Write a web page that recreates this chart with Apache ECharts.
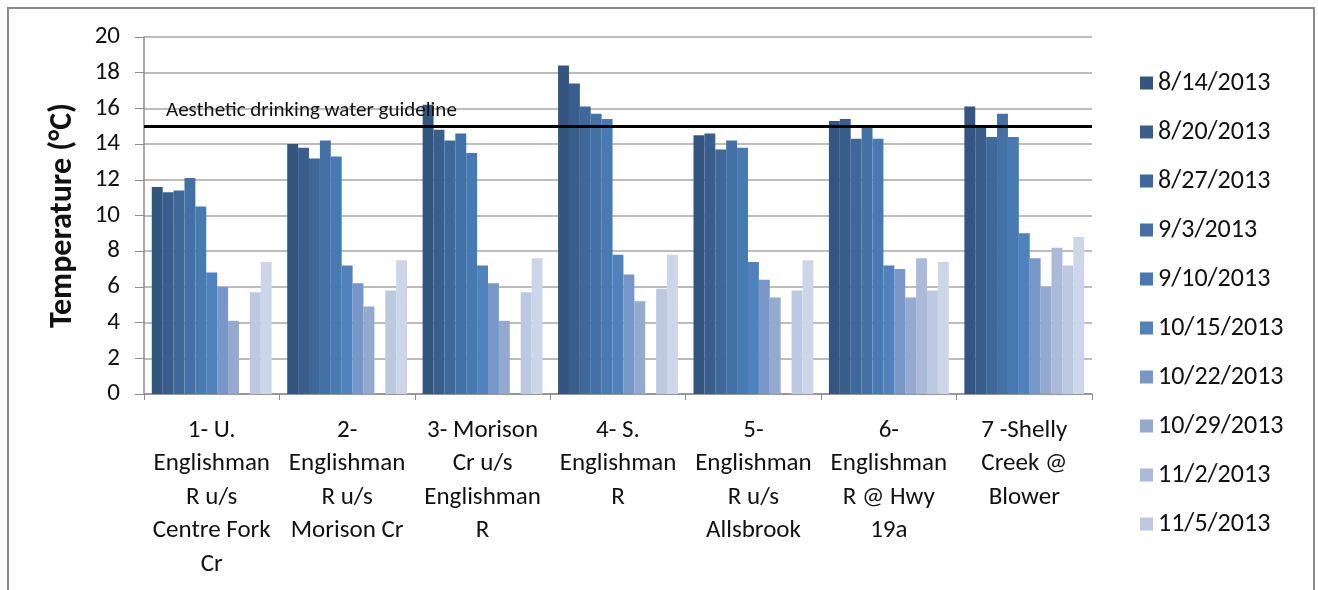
<!DOCTYPE html>
<html>
<head>
<meta charset="utf-8">
<title>Water temperature by site</title>
<script src="https://cdn.jsdelivr.net/npm/echarts@6/dist/echarts.min.js"></script>
<style>
  html, body { margin: 0; padding: 0; background: #fff; }
  #main { width: 1318px; height: 590px; }
</style>
</head>
<body>
<div id="main"></div>
<script>
// sites (x categories)
var sites = [
  '1- U.\nEnglishman\nR u/s\nCentre Fork\nCr',
  '2-\nEnglishman\nR u/s\nMorison Cr',
  '3- Morison\nCr u/s\nEnglishman\nR',
  '4- S.\nEnglishman\nR',
  '5-\nEnglishman\nR u/s\nAllsbrook',
  '6-\nEnglishman\nR @ Hwy\n19a',
  '7 -Shelly\nCreek @\nBlower'
];

// sampling dates (last one is not shown in the legend of the original)
var dates = ['8/14/2013', '8/20/2013', '8/27/2013', '9/3/2013', '9/10/2013',
  '10/15/2013', '10/22/2013', '10/29/2013', '11/2/2013', '11/5/2013', '(unlabelled)'];

// temperature (°C), one array per date, one value per site
var t0814 = [11.6, 14.0, 16.2, 18.4, 14.5, 15.3, 16.1];
var t0820 = [11.3, 13.8, 14.8, 17.4, 14.6, 15.4, 14.9];
var t0827 = [11.4, 13.2, 14.2, 16.1, 13.7, 14.3, 14.4];
var t0903 = [12.1, 14.2, 14.6, 15.7, 14.2, 14.9, 15.7];
var t0910 = [10.5, 13.3, 13.5, 15.4, 13.8, 14.3, 14.4];
var t1015 = [6.8, 7.2, 7.2, 7.8, 7.4, 7.2, 9.0];
var t1022 = [6.0, 6.2, 6.2, 6.7, 6.4, 7.0, 7.6];
var t1029 = [4.1, 4.9, 4.1, 5.2, 5.4, 5.4, 6.0];
var t1102 = [null, null, null, null, null, 7.6, 8.2];
var t1105 = [5.7, 5.8, 5.7, 5.9, 5.8, 5.8, 7.2];
var tLast = [7.4, 7.5, 7.6, 7.8, 7.5, 7.4, 8.8];

var values = [t0814, t0820, t0827, t0903, t0910, t1015, t1022, t1029, t1102, t1105, tLast];
var colors = ['#34557f', '#395e8c', '#3e6899', '#4371a5', '#477ab1', '#4f81bd',
  '#7896c7', '#93a9d0', '#abbad8', '#bdc9e1', '#cdd6e9'];

var guideline = 15;
var yTicks = { min: 0, max: 20, interval: 2 };

var txt = '#111';
var font = 'Carlito, Lato, "Liberation Sans", sans-serif';

var series = [];
for (var i = 0; i < dates.length; i++) {
  var s = {
    name: dates[i],
    type: 'bar',
    data: values[i],
    barGap: '0%',
    barCategoryGap: '11.5%',
    itemStyle: { color: colors[i] }
  };
  if (i === 0) {
    s.markLine = {
      silent: true,
      symbol: 'none',
      data: [{ yAxis: guideline }],
      lineStyle: { color: '#000', width: 3, type: 'solid' },
      label: {
        show: true,
        position: 'insideStartTop',
        formatter: 'Aesthetic drinking water guideline',
        color: txt,
        fontFamily: font,
        fontSize: 21,
        distance: [22, 5]
      }
    };
  }
  series.push(s);
}

var myChart = echarts.init(document.getElementById('main'));
var option = {
  backgroundColor: '#fff',
  animation: false,
  textStyle: { fontFamily: font, color: txt },
  graphic: [{
    type: 'rect',
    shape: { x: 8, y: 8, width: 1306, height: 600 },
    style: { fill: 'none', stroke: '#8a8a8a', lineWidth: 2 },
    silent: true
  }],
  grid: { left: 144, right: 226, top: 37, bottom: 196 },
  legend: {
    orient: 'vertical',
    left: 1135,
    top: 65,
    data: dates.slice(0, 10),
    icon: 'rect',
    itemWidth: 13,
    itemHeight: 13,
    itemGap: 23,
    textStyle: { fontFamily: font, fontSize: 26, color: txt, lineHeight: 26 }
  },
  xAxis: {
    type: 'category',
    data: sites,
    axisLine: { lineStyle: { color: '#8c8c8c', width: 1.5 } },
    axisTick: { show: true, length: 6, lineStyle: { color: '#8c8c8c' } },
    axisLabel: {
      interval: 0,
      fontFamily: font,
      fontSize: 25,
      color: txt,
      lineHeight: 33.4,
      margin: 20
    }
  },
  yAxis: {
    type: 'value',
    min: yTicks.min,
    max: yTicks.max,
    interval: yTicks.interval,
    name: 'Temperature (°C)',
    nameLocation: 'middle',
    nameGap: 65,
    nameTextStyle: { fontFamily: font, fontSize: 32, fontWeight: 'bold', color: txt },
    axisLine: { show: true, lineStyle: { color: '#8c8c8c', width: 1.5 } },
    axisTick: { show: true, length: 9, lineStyle: { color: '#8c8c8c' } },
    axisLabel: { fontFamily: font, fontSize: 25, color: txt, margin: 24 },
    splitLine: { lineStyle: { color: '#a6a6a6', width: 1.5 } }
  },
  series: series
};
myChart.setOption(option);
</script>
</body>
</html>
